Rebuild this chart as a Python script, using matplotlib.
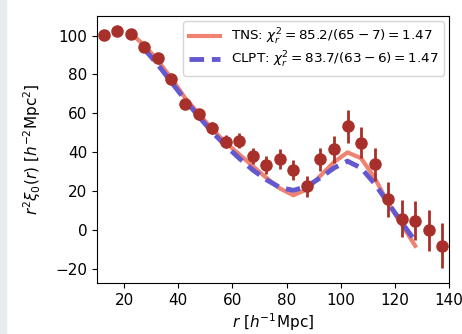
import numpy as np
import matplotlib
matplotlib.use("Agg")
import matplotlib.pyplot as plt
from matplotlib.patches import Rectangle

# data points
r_data = np.arange(12.5, 140, 5.0)
xi_data = np.array([100.5, 102.5, 101, 94, 88.5, 77.5, 65, 59.5, 52.5, 45.5,
                    46, 38, 33.5, 36.5, 31, 22.5, 36.5, 41.5, 53.5, 45,
                    34, 16, 6, 5, 0, -8])
err_data = np.array([1, 1, 1, 1.5, 1.5, 2, 2.5, 3, 3, 3.5,
                     4, 4, 4.5, 5, 5, 5.5, 6, 7, 8.5, 8,
                     8.5, 9, 9.5, 10, 10.5, 11.5])

# models
r_tns = np.arange(22.5, 130, 5.0)
xi_tns = np.array([101, 95, 87, 78, 68, 60, 52, 45, 39, 33, 27,
                   21.5, 18, 21, 28, 35, 40, 37, 27, 14, 3, -8])
r_clpt = np.arange(27.5, 130, 5.0)
xi_clpt = np.array([93, 85, 76, 67, 58.5, 50.5, 43.5, 37, 31, 26,
                    22, 20.5, 22.5, 27, 32, 35.5, 32, 24, 14, 4, -5.5])

fig = plt.figure(figsize=(4.62, 3.34), dpi=100)
fig.patches.append(Rectangle((0, 0), 6 / 462, 1, transform=fig.transFigure,
                             color='#e8ecef', zorder=0))
ax = fig.add_axes([0.21, 0.153, 0.762, 0.799])

ax.plot(r_tns, xi_tns, color='#ef8270', lw=3,
        label=r'TNS: $\chi^2_r = 85.2/(65-7) = 1.47$')
ax.plot(r_clpt, xi_clpt, color='#6358cf', lw=3.5, ls=(0, (3, 1.6)),
        label=r'CLPT: $\chi^2_r = 83.7/(63-6) = 1.47$')
ax.errorbar(r_data, xi_data, yerr=err_data, fmt='o', color='#a8302a',
            ms=8, elinewidth=2, capsize=0, zorder=3)

ax.set_xlim(10, 140)
ax.set_ylim(-27, 110)
ax.set_xticks([20, 40, 60, 80, 100, 120, 140])
ax.set_yticks([-20, 0, 20, 40, 60, 80, 100])
ax.tick_params(labelsize=11)
ax.set_xlabel(r'$r\ [h^{-1}\mathrm{Mpc}]$', fontsize=11, labelpad=2.5)
ax.set_ylabel(r'$r^2\xi_0(r)\ [h^{-2}\mathrm{Mpc}^2]$', fontsize=11,
              labelpad=9)
ax.legend(loc='upper right', fontsize=9.7, handlelength=2.3,
          labelspacing=0.25, borderaxespad=0.4)

fig.savefig('out.png', dpi=100)
